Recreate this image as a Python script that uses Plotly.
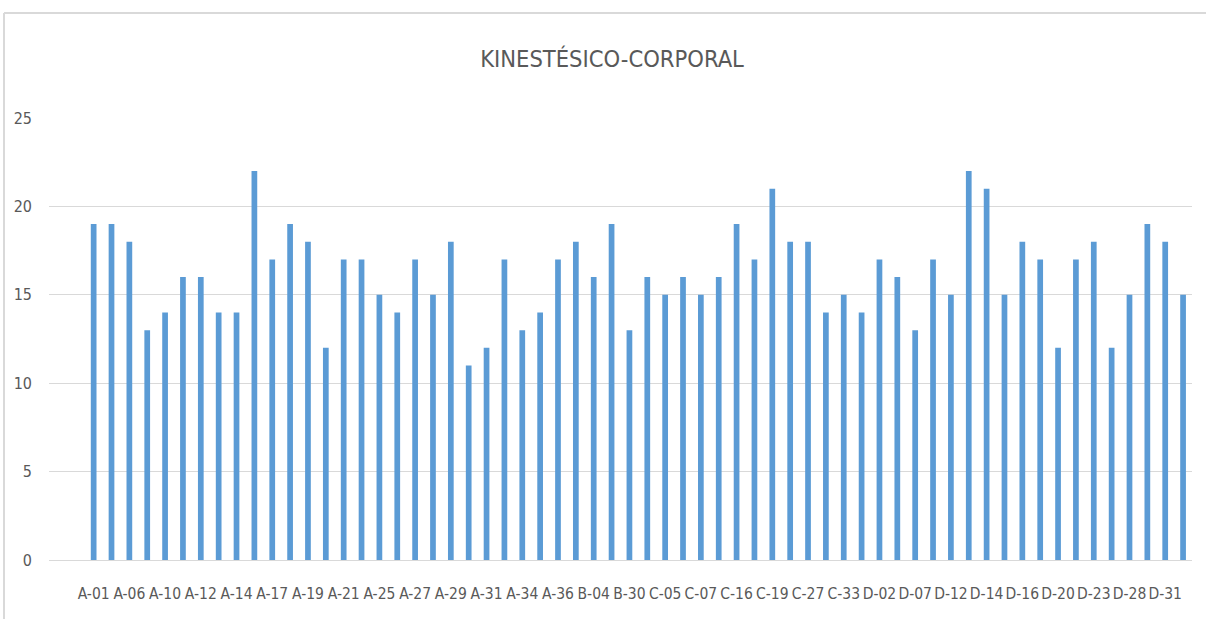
import plotly.graph_objects as go

# Category codes (every other one is labelled on the axis; the unlabelled ones are estimates)
categories = [
    "A-01", "A-03", "A-06", "A-08", "A-10", "A-11", "A-12", "A-13", "A-14", "A-16",
    "A-17", "A-18", "A-19", "A-20", "A-21", "A-23", "A-25", "A-26", "A-27", "A-28",
    "A-29", "A-30", "A-31", "A-33", "A-34", "A-35", "A-36", "B-02", "B-04", "B-15",
    "B-30", "C-02", "C-05", "C-06", "C-07", "C-12", "C-16", "C-18", "C-19", "C-24",
    "C-27", "C-30", "C-33", "D-01", "D-02", "D-05", "D-07", "D-10", "D-12", "D-13",
    "D-14", "D-15", "D-16", "D-18", "D-20", "D-21", "D-23", "D-25", "D-28", "D-29",
    "D-31", "D-33",
]
values = [
    19, 19, 18, 13, 14, 16, 16, 14, 14, 22,
    17, 19, 18, 12, 17, 17, 15, 14, 17, 15,
    18, 11, 12, 17, 13, 14, 17, 18, 16, 19,
    13, 16, 15, 16, 15, 16, 19, 17, 21, 18,
    18, 14, 15, 14, 17, 16, 13, 17, 15, 22,
    21, 15, 18, 17, 12, 17, 18, 12, 15, 19,
    18, 15,
]
title_text = "KINESTÉSICO-CORPORAL"
y_ticks = [0, 5, 10, 15, 20, 25]

tick_vals = categories[::2]

FONT = "DejaVu Sans Condensed, Liberation Sans Narrow, sans-serif"
GRAY = "#595959"
GRID = "#D9D9D9"

fig = go.Figure(
    go.Bar(
        x=categories,
        y=values,
        marker=dict(color="#5B9BD5", line=dict(width=0)),
        width=0.32,
        hoverinfo="x+y",
    )
)

W, H = 1206, 619
L, R, T, B = 49, 14, 118, 59

fig.update_layout(
    width=W,
    height=H,
    margin=dict(l=L, r=R, t=T, b=B, pad=0),
    paper_bgcolor="white",
    plot_bgcolor="white",
    showlegend=False,
    font=dict(family=FONT, color=GRAY, size=15.5),
    title=dict(
        text=title_text,
        x=612 / W,
        xanchor="center",
        y=1 - 59 / H,
        yanchor="middle",
        font=dict(family=FONT, size=23.5, color=GRAY),
    ),
    xaxis=dict(
        type="category",
        categoryorder="array",
        categoryarray=categories,
        range=[-2.5, len(categories) - 0.5],
        tickmode="array",
        tickvals=tick_vals,
        ticktext=tick_vals,
        tickangle=0,
        showgrid=False,
        showline=False,
        zeroline=False,
        ticks="",
        ticklabelstandoff=22,
        tickfont=dict(family=FONT, size=15.5, color=GRAY),
    ),
    yaxis=dict(
        range=[0, 25],
        tickmode="array",
        tickvals=y_ticks,
        showgrid=True,
        gridcolor=GRID,
        gridwidth=1,
        zeroline=True,
        zerolinecolor=GRID,
        zerolinewidth=1,
        showline=False,
        ticks="",
        ticklabelstandoff=16,
        tickfont=dict(family=FONT, size=16, color=GRAY),
    ),
    shapes=[
        dict(
            type="line", xref="paper", yref="paper",
            x0=(4 - L) / (W - L - R), x1=(W - L) / (W - L - R),
            y0=(H - B - 13) / (H - T - B), y1=(H - B - 13) / (H - T - B),
            line=dict(color=GRID, width=2),
        ),
        dict(
            type="line", xref="paper", yref="paper",
            x0=(4 - L) / (W - L - R), x1=(4 - L) / (W - L - R),
            y0=(H - B - 13) / (H - T - B), y1=-B / (H - T - B),
            line=dict(color=GRID, width=2),
        ),
    ],
)

fig.write_html(
    "out.html",
    config={"displayModeBar": False},
    post_script="document.body.style.margin='0px';document.body.style.overflow='hidden';",
)
